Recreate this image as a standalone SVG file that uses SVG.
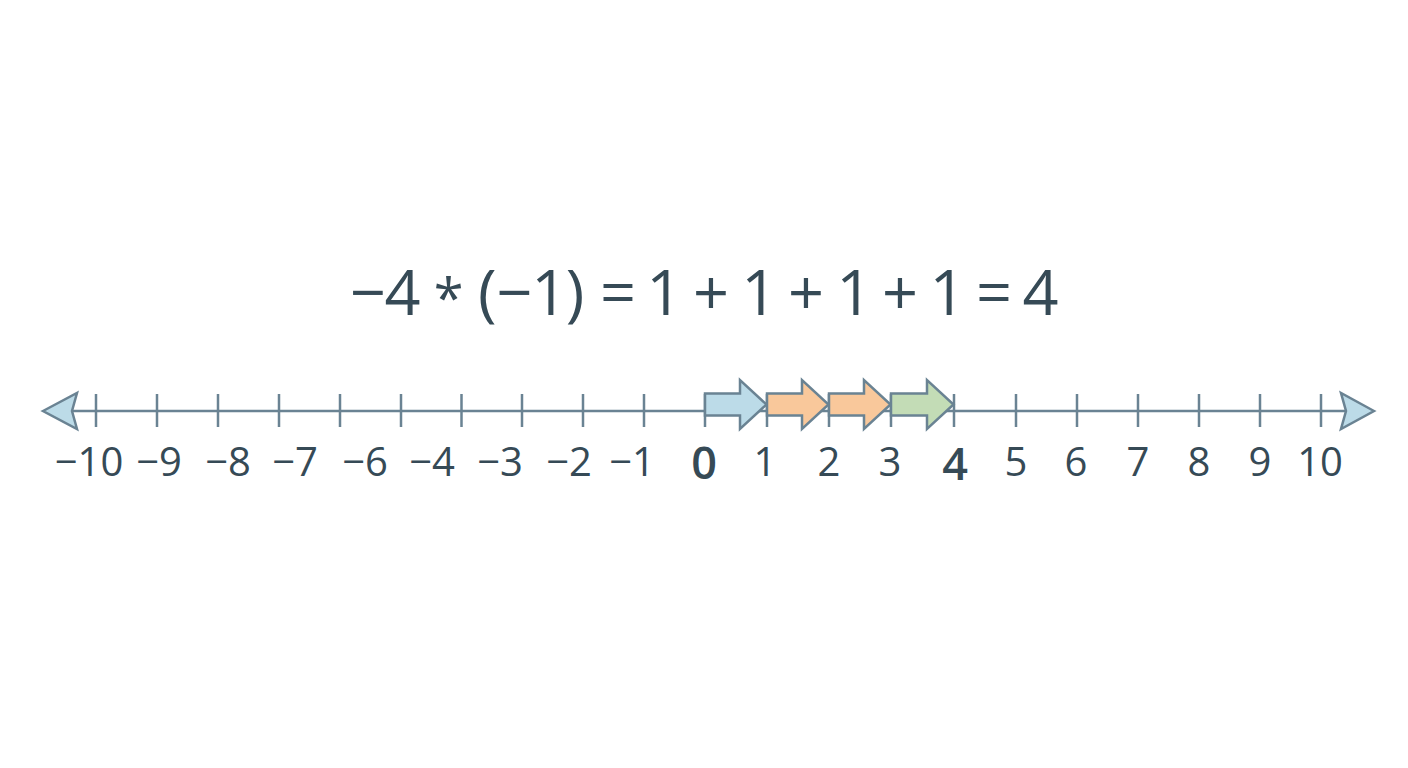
<svg xmlns="http://www.w3.org/2000/svg" width="1408" height="768" viewBox="0 0 1408 768">
<style>
.axis{stroke:#6a8393;stroke-width:2.5;fill:none}
.tick{stroke:#6a8393;stroke-width:2.5}
.head{fill:#bcdbe8;stroke:#6a8393;stroke-width:2.5;stroke-linejoin:miter}
.blk{stroke:#6a8393;stroke-width:2.5;stroke-linejoin:miter}
.blue{fill:#bcdbe8}
.orange{fill:#f9c89b}
.green{fill:#c3dcb6}
.lbl{font-family:"Open Sans","Noto Sans",sans-serif;font-size:40px;fill:#364a56;text-anchor:middle}
.big{font-size:45px;font-weight:600}
.title{font-family:"Open Sans","Noto Sans",sans-serif;font-size:63px;fill:#364a56;text-anchor:start}
.ast{font-size:54px}
</style>
<rect width="1408" height="768" fill="#ffffff"/>
<g id="title"><text class="title" x="350 384.5 421 433.8 463 478 496.5 531.3 565.7 585 600 637 646.3 683 693 730 741.3 778 788 825 836.3 873 882 919 929.6 966 976 1013 1022.5" y="315 315 315 318 315 315 315 315 315 315 315 315 315 315 315 315 315 315 315 315 315 315 315 315 315 315 315 315 315">−4 <tspan class="ast">*</tspan> (−1) = 1 + 1 + 1 + 1 = 4</text></g>
<g id="axis">
<line class="axis" x1="72" y1="411" x2="1346" y2="411"/>
<polygon class="head" points="43,411 77,393 72,411 77,429"/>
<polygon class="head" points="1374,411 1341,393 1346,411 1341,429"/>
<g id="ticks">
<line class="tick" x1="96" y1="394" x2="96" y2="427"/>
<line class="tick" x1="157" y1="394" x2="157" y2="427"/>
<line class="tick" x1="218" y1="394" x2="218" y2="427"/>
<line class="tick" x1="279" y1="394" x2="279" y2="427"/>
<line class="tick" x1="340" y1="394" x2="340" y2="427"/>
<line class="tick" x1="401" y1="394" x2="401" y2="427"/>
<line class="tick" x1="461.5" y1="394" x2="461.5" y2="427"/>
<line class="tick" x1="522" y1="394" x2="522" y2="427"/>
<line class="tick" x1="583" y1="394" x2="583" y2="427"/>
<line class="tick" x1="644" y1="394" x2="644" y2="427"/>
<line class="tick" x1="705" y1="394" x2="705" y2="427"/>
<line class="tick" x1="767" y1="394" x2="767" y2="427"/>
<line class="tick" x1="829" y1="394" x2="829" y2="427"/>
<line class="tick" x1="891" y1="394" x2="891" y2="427"/>
<line class="tick" x1="954" y1="394" x2="954" y2="427"/>
<line class="tick" x1="1016" y1="394" x2="1016" y2="427"/>
<line class="tick" x1="1077" y1="394" x2="1077" y2="427"/>
<line class="tick" x1="1138" y1="394" x2="1138" y2="427"/>
<line class="tick" x1="1199" y1="394" x2="1199" y2="427"/>
<line class="tick" x1="1260" y1="394" x2="1260" y2="427"/>
<line class="tick" x1="1321" y1="394" x2="1321" y2="427"/>
</g>
</g>
<g id="steps">
<polygon id="step1" class="blk blue" points="705,393.5 740,393.5 740,380 766.5,404.5 740,429 740,415.5 705,415.5"/>
<polygon id="step2" class="blk orange" points="767,393.5 802,393.5 802,380 828.5,404.5 802,429 802,415.5 767,415.5"/>
<polygon id="step3" class="blk orange" points="829,393.5 864,393.5 864,380 890.5,404.5 864,429 864,415.5 829,415.5"/>
<polygon id="step4" class="blk green" points="891,393.5 927,393.5 927,380 953.5,404.5 927,429 927,415.5 891,415.5"/>
</g>
<g id="labels">
<text class="lbl" x="89" y="476">−10</text>
<text class="lbl" x="159" y="476">−9</text>
<text class="lbl" x="228" y="476">−8</text>
<text class="lbl" x="295" y="476">−7</text>
<text class="lbl" x="365" y="476">−6</text>
<text class="lbl" x="432" y="476">−4</text>
<text class="lbl" x="500" y="476">−3</text>
<text class="lbl" x="569" y="476">−2</text>
<text class="lbl" x="632" y="476">−1</text>
<text class="lbl big" x="704" y="479">0</text>
<text class="lbl" x="765" y="476">1</text>
<text class="lbl" x="829" y="476">2</text>
<text class="lbl" x="890" y="476">3</text>
<text class="lbl big" x="955" y="480">4</text>
<text class="lbl" x="1016" y="476">5</text>
<text class="lbl" x="1076" y="476">6</text>
<text class="lbl" x="1138" y="476">7</text>
<text class="lbl" x="1199" y="476">8</text>
<text class="lbl" x="1260" y="476">9</text>
<text class="lbl" x="1320" y="476">10</text>
</g>
</svg>
